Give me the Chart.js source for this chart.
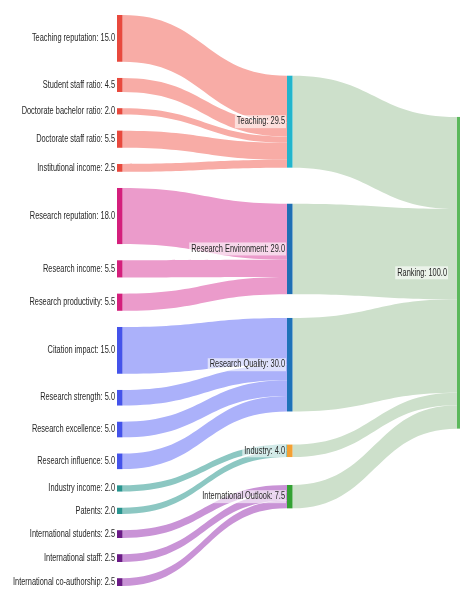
<!DOCTYPE html>
<html lang="en">
<head>
<meta charset="UTF-8">
<title>Ranking weights</title>
<script src="https://cdn.jsdelivr.net/npm/chart.js"></script>
<style>
  html, body { margin: 0; padding: 0; background: #fff; }
  .wrap { width: 460px; height: 590px; position: relative; }
</style>
</head>
<body>
<div class="wrap"><canvas id="chart"></canvas></div>
<script>
// left column: the metrics and their weights
const metricLabels = [
  'Teaching reputation', 'Student staff ratio', 'Doctorate bachelor ratio', 'Doctorate staff ratio', 'Institutional income',
  'Research reputation', 'Research income', 'Research productivity',
  'Citation impact', 'Research strength', 'Research excellence', 'Research influence',
  'Industry income', 'Patents',
  'International students', 'International staff', 'International co-authorship'
];
const metricValues = [15, 4.5, 2, 5.5, 2.5, 18, 5.5, 5.5, 15, 5, 5, 5, 2, 2, 2.5, 2.5, 2.5];
// which pillar each metric flows into
const metricPillar = [0, 0, 0, 0, 0, 1, 1, 1, 2, 2, 2, 2, 3, 3, 4, 4, 4];

// middle column and the final node
const pillarLabels = ['Teaching', 'Research Environment', 'Research Quality', 'Industry', 'International Outlook'];
const totalLabel = 'Ranking';

// colours
const metricNodeColors = ['#e8493d', '#d41f7c', '#4453ea', '#2a9590', '#6b1b86'];
const metricLinkColors = ['#f8aca6', '#eb9bcb', '#abb1fa', '#8cc7c2', '#c993d6'];
const pillarNodeColors = ['#22b5cc', '#1f6fb4', '#1f72b8', '#f4a033', '#33a133'];
const totalNodeColor = '#5cb85c';
const totalLinkColor = '#cde0cb';

const NODE_PAD = 5.2;     // gap between nodes, in value units
const NODE_W = 5.5;       // node thickness, px
const ITERATIONS = 32;

// ---- build graph ----
const pillarValues = pillarLabels.map((_, p) =>
  metricValues.reduce((s, v, i) => s + (metricPillar[i] === p ? v : 0), 0));
const total = pillarValues.reduce((a, b) => a + b, 0);

const nodes = [];
const links = [];
metricLabels.forEach((name, i) => nodes.push({ name, layer: 0, color: metricNodeColors[metricPillar[i]] }));
pillarLabels.forEach((name, p) => nodes.push({ name, layer: 1, color: pillarNodeColors[p] }));
nodes.push({ name: totalLabel, layer: 2, color: totalNodeColor });
const nM = metricLabels.length, nP = pillarLabels.length;
metricValues.forEach((v, i) => links.push({ s: i, t: nM + metricPillar[i], value: v, color: metricLinkColors[metricPillar[i]] }));
pillarValues.forEach((v, p) => links.push({ s: nM + p, t: nM + nP, value: v, color: totalLinkColor }));

// ---- sankey relaxation (node order kept), vertical units = value units ----
const columns = [[], [], []];
nodes.forEach(n => columns[n.layer].push(n));
const maxLen = Math.max(...columns.map(c => c.length));
const Y0 = 0;
const Y1 = total + (maxLen - 1) * NODE_PAD;

function layout() {
  const py = NODE_PAD;
  nodes.forEach((n, i) => { n.index = i; n.sourceLinks = []; n.targetLinks = []; });
  links.forEach(l => {
    l.source = nodes[l.s]; l.target = nodes[l.t];
    l.source.sourceLinks.push(l); l.target.targetLinks.push(l);
  });
  const sumV = arr => arr.reduce((s, l) => s + l.value, 0);
  nodes.forEach(n => { n.value = Math.max(sumV(n.sourceLinks), sumV(n.targetLinks)); });
  const center = n => (n.y0 + n.y1) / 2;

  const ky = Math.min(...columns.map(c =>
    (Y1 - Y0 - (c.length - 1) * py) / c.reduce((s, n) => s + n.value, 0)));
  links.forEach(l => { l.width = l.value * ky; });
  // start evenly spread over the height
  columns.forEach(col => {
    let y = Y0;
    col.forEach(n => { n.y0 = y; n.y1 = y + n.value * ky; y = n.y1 + py; });
    const extra = (Y1 - y + py) / (col.length + 1);
    col.forEach((n, i) => { n.y0 += extra * (i + 1); n.y1 += extra * (i + 1); });
  });

  function down(col, y, i) {
    for (; i < col.length; ++i) {
      const n = col[i], dy = y - n.y0;
      if (dy > 1e-6) { n.y0 += dy; n.y1 += dy; }
      y = n.y1 + py;
    }
  }
  function up(col, y, i) {
    for (; i >= 0; --i) {
      const n = col[i], dy = n.y1 - y;
      if (dy > 1e-6) { n.y0 -= dy; n.y1 -= dy; }
      y = n.y0 - py;
    }
  }
  function resolve(cols) {
    cols.forEach(col => {
      const i = col.length >> 1, m = col[i];
      up(col, m.y0 - py, i - 1);
      down(col, m.y1 + py, i + 1);
      up(col, Y1, col.length - 1);
      down(col, Y0, 0);
    });
  }
  function leftToRight(alpha) {
    columns.forEach(col => col.forEach(n => {
      if (!n.targetLinks.length) return;
      const c = n.targetLinks.reduce((s, l) => s + center(l.source) * l.value, 0) / sumV(n.targetLinks);
      const dy = (c - center(n)) * alpha;
      n.y0 += dy; n.y1 += dy;
    }));
  }
  function rightToLeft(alpha) {
    columns.slice().reverse().forEach(col => col.forEach(n => {
      if (!n.sourceLinks.length) return;
      const c = n.sourceLinks.reduce((s, l) => s + center(l.target) * l.value, 0) / sumV(n.sourceLinks);
      const dy = (c - center(n)) * alpha;
      n.y0 += dy; n.y1 += dy;
    }));
  }

  const firstColumn = columns.filter(col => col.every(n => !n.targetLinks.length));
  resolve(columns);
  let alpha = 1;
  for (let k = ITERATIONS; k > 0; --k) {
    alpha *= 0.99;
    rightToLeft(alpha);
    resolve(firstColumn);
    leftToRight(alpha);
    resolve(columns);
  }

  nodes.forEach(n => {
    n.sourceLinks.sort((a, b) => a.target.y0 - b.target.y0);
    n.targetLinks.sort((a, b) => a.source.y0 - b.source.y0);
  });
  nodes.forEach(n => {
    let a = n.y0, b = n.y0;
    n.sourceLinks.forEach(l => { l.y0 = a + l.width / 2; a += l.width; });
    n.targetLinks.forEach(l => { l.y1 = b + l.width / 2; b += l.width; });
  });
}
layout();

// ---- drawing through the chart scales ----
const LABEL_FONT = '10px "Liberation Sans", Arial, sans-serif';
const SQUEEZE = 0.74;

function drawLabel(ctx, text, xRight, yMid, boxed) {
  ctx.font = LABEL_FONT;
  const w = ctx.measureText(text).width * SQUEEZE;
  if (boxed) {
    ctx.fillStyle = 'rgba(255,255,255,0.6)';
    ctx.fillRect(xRight - w - 2, yMid - 6.5, w + 3, 13);
  }
  ctx.fillStyle = '#262626';
  ctx.textAlign = 'left';
  ctx.textBaseline = 'middle';
  ctx.fillText(text, xRight - w, yMid, w);
}

const sankeyPlugin = {
  id: 'sankey',
  afterDatasetsDraw(chart) {
    const ctx = chart.ctx;
    const xs = chart.scales.x, ys = chart.scales.y;
    const yp = v => ys.getPixelForValue(v);
    const x0 = n => xs.getPixelForValue(n.layer);
    ctx.save();
    links.forEach(l => {
      const sx = x0(l.source) + NODE_W, tx = x0(l.target);
      const xm = (sx + tx) / 2;
      const h = l.width / 2;
      const a0 = yp(l.y0 - h), b0 = yp(l.y0 + h);
      const a1 = yp(l.y1 - h), b1 = yp(l.y1 + h);
      ctx.beginPath();
      ctx.moveTo(sx, a0);
      ctx.bezierCurveTo(xm, a0, xm, a1, tx, a1);
      ctx.lineTo(tx, b1);
      ctx.bezierCurveTo(xm, b1, xm, b0, sx, b0);
      ctx.closePath();
      ctx.fillStyle = l.color;
      ctx.fill();
    });
    nodes.forEach(n => {
      ctx.fillStyle = n.color;
      ctx.fillRect(x0(n), yp(n.y0), NODE_W, yp(n.y1) - yp(n.y0));
    });
    nodes.forEach(n => {
      const yMid = yp((n.y0 + n.y1) / 2);
      const text = n.name + ': ' + n.value.toFixed(1);
      const gap = n.layer === 2 ? 10 : 2;
      drawLabel(ctx, text, x0(n) - gap, yMid, n.layer > 0);
    });
    ctx.restore();
  }
};

new Chart(document.getElementById('chart'), {
  type: 'scatter',
  data: { datasets: [{ data: [] }] },
  options: {
    responsive: true,
    maintainAspectRatio: false,
    animation: false,
    layout: { padding: { left: 117, right: 3, top: 15, bottom: 4 } },
    plugins: { legend: { display: false }, tooltip: { enabled: false } },
    scales: {
      x: { type: 'linear', min: 0, max: 2, display: false },
      y: { type: 'linear', min: Y0, max: Y1, reverse: true, display: false }
    }
  },
  plugins: [sankeyPlugin]
});
</script>
</body>
</html>
